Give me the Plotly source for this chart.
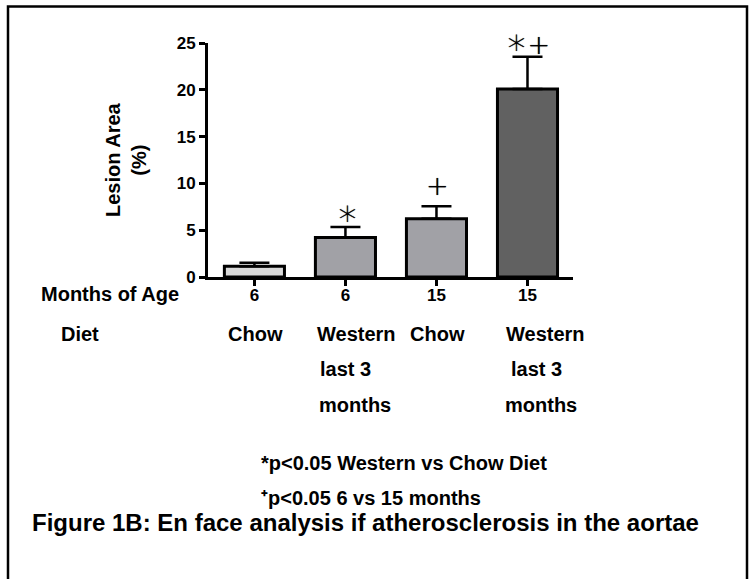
import plotly.graph_objects as go

# ---- data ----
categories = ["6 mo Chow", "6 mo Western", "15 mo Chow", "15 mo Western"]
age_labels = ["6", "6", "15", "15"]
diet_lines = [["Chow"], ["Western", "last 3", "months"], ["Chow"], ["Western", "last 3", "months"]]
lesion_area = [1.15, 4.22, 6.22, 20.08]
lesion_err = [0.38, 1.12, 1.35, 3.45]
bar_colors = ["#d9d9d9", "#a1a1a6", "#a1a1a6", "#616161"]
sig_marks = ["", "∗", "+", "∗+"]
y_ticks = [0, 5, 10, 15, 20, 25]

W, H = 752, 579
L, R, T, B = 208, 573, 43, 277  # plot area in pixels
PW, PH = R - L, B - T

def px(x):
    return (x - L) / PW

def py(y):
    return (B - y) / PH

FONT = "Liberation Sans, Arial, sans-serif"
TXT = dict(size=20, weight="bold", family=FONT, color="black")

fig = go.Figure()
fig.add_trace(go.Bar(
    x=list(range(len(categories))),
    y=lesion_area,
    width=0.66,
    marker=dict(color=bar_colors, line=dict(color="black", width=3)),
    error_y=dict(type="data", array=lesion_err, arrayminus=[0] * len(lesion_err),
                 symmetric=False, color="black", thickness=2.5, width=15),
    cliponaxis=False,
    hovertext=categories,
))

fig.update_layout(
    width=W, height=H,
    margin=dict(l=L, r=W - R, t=T, b=H - B, pad=0),
    paper_bgcolor="white", plot_bgcolor="white",
    showlegend=False,
    font=dict(family=FONT, color="black"),
)
fig.update_xaxes(
    range=[-0.51, 3.5], tickmode="array", tickvals=list(range(len(age_labels))),
    ticktext=age_labels, showline=True, linecolor="black", linewidth=3,
    ticks="outside", ticklen=6, tickwidth=3, tickcolor="black", ticklabelstandoff=-5,
    tickfont=dict(size=17, weight="bold", family=FONT), showgrid=False, zeroline=False,
)
fig.update_yaxes(
    range=[0, 25], tickmode="array", tickvals=y_ticks,
    showline=True, linecolor="black", linewidth=3,
    ticks="outside", ticklen=6, tickwidth=3, tickcolor="black",
    tickfont=dict(size=17, weight="bold", family=FONT), showgrid=False, zeroline=False,
)

ann = []
def label(x, y, text, font=TXT, xanchor="center", **kw):
    ann.append(dict(x=px(x), y=py(y), xref="paper", yref="paper", text=text,
                    xanchor=xanchor, yanchor="middle", showarrow=False, font=font, **kw))

# y-axis title
label(126, 160, "Lesion Area<br>(%)", textangle=-90)
# row labels
label(110, 294, "Months of Age")
label(80, 334, "Diet")
# diet labels
line_y = [334, 369, 405]
diet_shift = [[1], [-30, -27, -28], [1], [-23, -18, -24]]
diet_anchor = ["center", "left", "center", "left"]
for i, lines in enumerate(diet_lines):
    for j, t in enumerate(lines):
        ann.append(dict(x=i, y=py(line_y[j]), xref="x", yref="paper", text=t,
                        xanchor=diet_anchor[i], yanchor="middle", xshift=diet_shift[i][j],
                        showarrow=False, font=TXT))
# significance marks
mark_dx = [0, 2, 1, 0]
mark_dy = [0, 15, 21, 15]
for i, m in enumerate(sig_marks):
    if not m:
        continue
    txt = m.replace("∗", "<span style='font-size:36px'>∗</span>")
    ann.append(dict(x=i, y=lesion_area[i] + lesion_err[i], xref="x", yref="y", text=txt,
                    xanchor="center", yanchor="middle",
                    yshift=mark_dy[i], xshift=mark_dx[i], showarrow=False,
                    font=dict(size=27, family="DejaVu Sans", weight=200, color="black",
                              shadow="0px 0px 0.8px #000")))
# footnotes
label(259, 463, "*p&lt;0.05 Western vs Chow Diet", xanchor="left")
label(259, 498, "⁺p&lt;0.05 6 vs 15 months", xanchor="left")
label(30, 522, "Figure 1B: En face analysis if atherosclerosis in the aortae",
      font=dict(size=24, weight="bold", family=FONT, color="black"), xanchor="left")
fig.update_layout(annotations=ann)

# frame around figure
fig.add_shape(type="rect", xref="paper", yref="paper",
              x0=px(8), x1=px(747), y0=py(600), y1=py(6.5),
              line=dict(color="black", width=2.5), fillcolor="rgba(0,0,0,0)", layer="above")

fig.write_html("out.html")
